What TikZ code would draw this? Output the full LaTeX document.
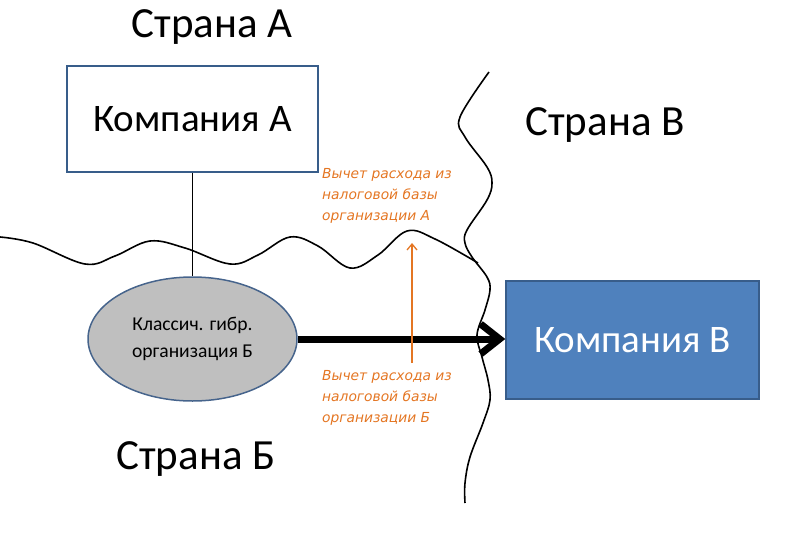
\documentclass[tikz,border=0pt]{standalone}
\usepackage{fontspec}
\setmainfont{Carlito}
\newfontfamily\notefont{DejaVu Sans}
\usetikzlibrary{arrows.meta,shapes.geometric}
\definecolor{boxblue}{RGB}{79,129,189}
\definecolor{boxedge}{RGB}{56,93,138}
\definecolor{ellgray}{RGB}{191,191,191}
\definecolor{elledge}{RGB}{70,100,140}
\definecolor{orng}{RGB}{228,118,35}
\tikzset{
  country/.style={font=\fontsize{43}{46}\selectfont, inner sep=0pt},
  compbox/.style={rectangle, draw=boxedge, line width=1.5pt, font=\fontsize{39}{42}\selectfont, inner sep=0pt},
  note/.style={font=\notefont\fontsize{13.8}{21}\selectfont\itshape, text=orng, align=left, inner sep=0pt, anchor=north west},
  wave/.style={line width=1.6pt, line join=round}
}
\begin{document}
\begin{tikzpicture}[x=1pt,y=-1pt]
\useasboundingbox (0,0) rectangle (812,544);
% country labels
\node[country] (ca) at (212,27) {Страна А};
\node[country] (cv) at (605,125) {Страна В};
\node[country] (cb) at (196,459) {Страна Б};
% wavy borders
\draw[wave] plot[smooth, tension=0.6] coordinates {(0,237) (33,243) (85,264) (115,256) (150,241) (185,248) (230,264) (258,255) (290,237) (318,246) (350,268) (378,255) (407,231) (435,239) (478,263)};
\draw[wave] plot[smooth, tension=0.6] coordinates {(489,72) (460,117) (465,137) (487,167) (492,183) (487,200) (467,230) (465,243) (472,257) (487,277) (490,290) (485,310) (477,335) (482,357) (488,380) (490,400) (483,423) (470,457) (465,483) (465,503)};
% companies
\node[compbox, fill=white, minimum width=251pt, minimum height=106pt] (a) at (192.5,119) {Компания А};
\node[compbox, fill=boxblue, text=white, minimum width=253pt, minimum height=118pt] (b) at (632.5,340) {Компания В};
\node[ellipse, draw=elledge, line width=1.5pt, fill=ellgray, minimum width=209pt, minimum height=124pt, align=center, font=\fontsize{19.6}{27}\selectfont, inner sep=0pt] (e) at (192.5,339) {Классич. гибр.\\организация Б};
% connectors
\draw[line width=1pt] (a.south) -- (e.north);
\draw[line width=7pt, -{Straight Barb[length=19pt,width=30pt]}] (e.east) -- (e.east -| b.west);
% orange notes
\node[note] (na) at (322,168) {Вычет расхода из\\налоговой базы\\организации А};
\node[note] (nb) at (322,370) {Вычет расхода из\\налоговой базы\\организации Б};
\coordinate (ob) at (412,363);
\coordinate (ot) at (412,243);
\draw[orng, line width=1.3pt, -{Straight Barb[length=6pt,width=10pt]}] (ob) -- (ot);
\end{tikzpicture}
\end{document}
